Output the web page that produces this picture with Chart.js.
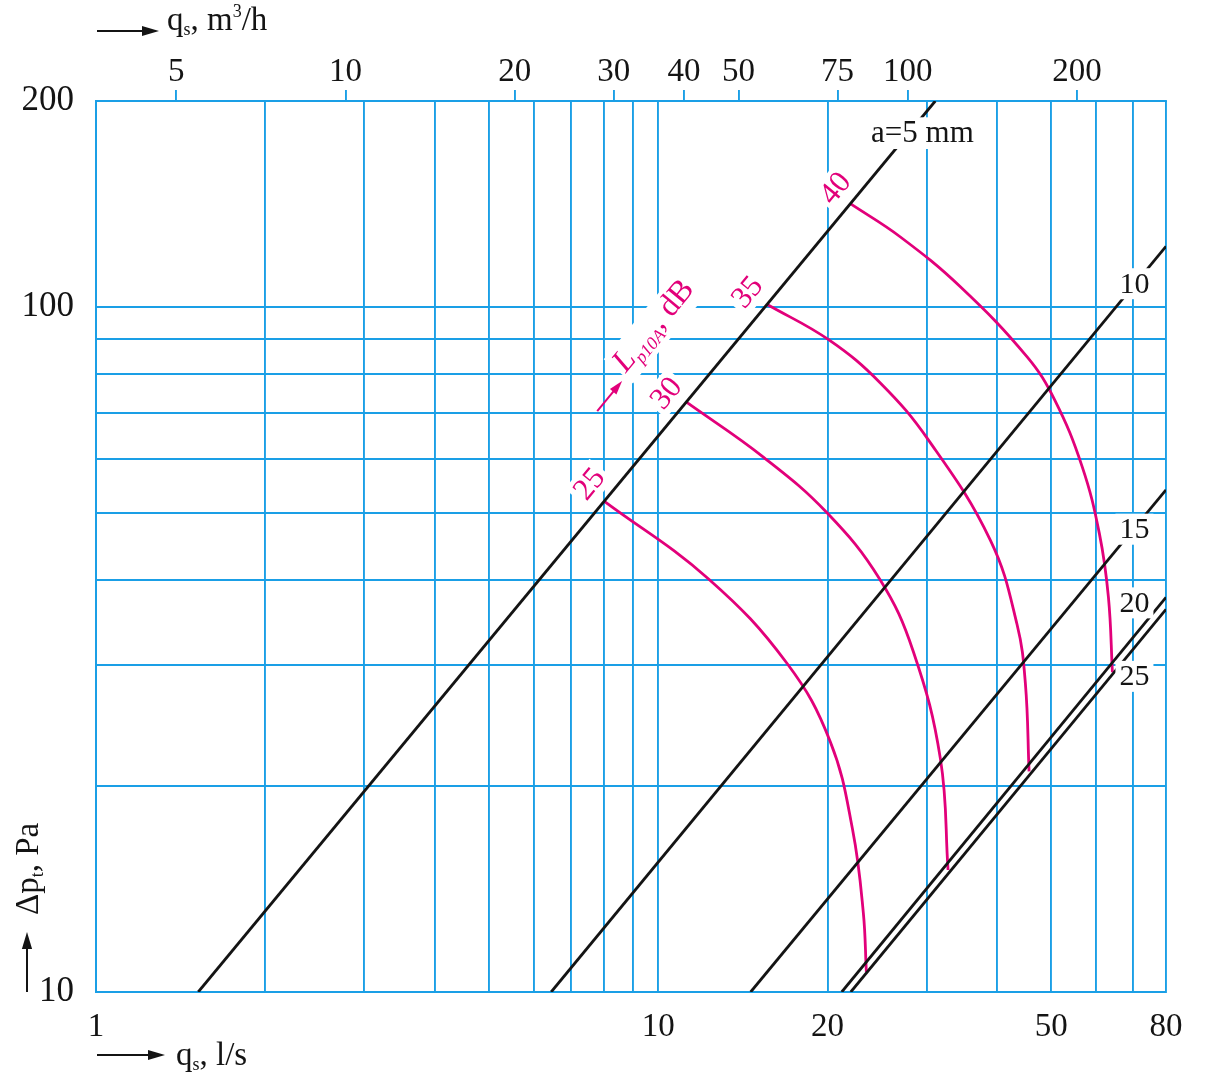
<!DOCTYPE html>
<html>
<head>
<meta charset="utf-8">
<title>Δp_t vs q_s</title>
<script src="https://cdn.jsdelivr.net/npm/chart.js@4.4.1/dist/chart.umd.min.js"></script>
<style>
  html, body { margin: 0; padding: 0; background: #fff; }
  #chart { display: block; width: 1211px; height: 1080px; }
</style>
</head>
<body>
<canvas id="chart" width="1211" height="1080"></canvas>
<script>
const BLUE = '#1a9fe6';
const PINK = '#e2007a';
const INK = '#141414';
const SERIF = '"Liberation Serif", "Times New Roman", serif';

// grid lines and tick labels
const xGrid = [1, 2, 3, 4, 5, 6, 7, 8, 9, 10, 20, 30, 40, 50, 60, 70, 80];   // l/s
const xLabels = [1, 10, 20, 50, 80];
const yGrid = [10, 20, 30, 40, 50, 60, 70, 80, 90, 100, 200];                // Pa
const yLabels = [10, 100, 200];
const topTicks = [5, 10, 20, 30, 40, 50, 75, 100, 200];                       // m3/h
const M3H_PER_LS = 3.6;

// slot width a (mm): straight lines, start and end point
const aNames = ['a=5 mm', '10', '15', '20', '25'];
const aFlow = [[1.52, 31.1], [6.45, 80], [14.6, 80], [21.2, 80], [22.0, 80]];
const aDp = [[10, 200], [10, 122.7], [10, 54.1], [10, 37.7], [10, 36.2]];

// sound level curves L_p10A (dB)
const lpLevels = [25, 30, 35, 40];
const lpFlow = [
  [8.01, 12.29, 16.94, 20.23, 22.17, 23.16, 23.45],
  [11.21, 15.38, 19.96, 24.76, 28.43, 31.76, 32.77],
  [15.63, 20.15, 24.83, 30.27, 38.96, 43.47, 44.98, 45.66],
  [21.96, 26.96, 34.46, 45.3, 50.73, 56.75, 60.9, 63.2, 64.24]
];
const lpDp = [
  [52.1, 40.1, 30.2, 23.2, 17.24, 13.06, 10.7],
  [72.7, 60.4, 50.1, 40.1, 31.4, 21.9, 15.07],
  [100.9, 89.5, 77.5, 63.9, 45.7, 34.4, 28.2, 21.0],
  [141.6, 126.6, 107.1, 84.6, 73.15, 58.5, 46.7, 37.7, 29.3]
];

// where the labels sit, in data units
const aLabelSpots = [[29.5, 179.5], [70.3, 108.2], [70.3, 47.4], [70.3, 37.0], [70.3, 28.9]];
const lpLabelSpots = [[7.54, 55.2], [10.33, 74.9], [14.4, 105.2], [20.65, 149.2]];
const lpTitleSpot = [8.75, 80.0];

const datasets = [];
aFlow.forEach((f, i) => {
  datasets.push({
    data: f.map((q, j) => ({ x: q, y: aDp[i][j] })),
    borderColor: INK,
    borderWidth: 2.8,
    pointRadius: 0,
    tension: 0
  });
});
lpFlow.forEach((f, i) => {
  datasets.push({
    data: f.map((q, j) => ({ x: q, y: lpDp[i][j] })),
    borderColor: PINK,
    borderWidth: 2.8,
    pointRadius: 0,
    tension: 0.4
  });
});

function arrow(ctx, x0, y0, x1, y1, color, head) {
  const ang = Math.atan2(y1 - y0, x1 - x0);
  ctx.save();
  ctx.strokeStyle = color;
  ctx.fillStyle = color;
  ctx.lineWidth = 2;
  ctx.beginPath();
  ctx.moveTo(x0, y0);
  ctx.lineTo(x1 - Math.cos(ang) * head * 0.8, y1 - Math.sin(ang) * head * 0.8);
  ctx.stroke();
  ctx.translate(x1, y1);
  ctx.rotate(ang);
  ctx.beginPath();
  ctx.moveTo(0, 0);
  ctx.lineTo(-head, -head * 0.3);
  ctx.lineTo(-head, head * 0.3);
  ctx.closePath();
  ctx.fill();
  ctx.restore();
}

// runs of text with sub/superscripts: [text, size, dy, italic]
function richText(ctx, x, y, parts, color) {
  ctx.fillStyle = color;
  ctx.textAlign = 'left';
  ctx.textBaseline = 'alphabetic';
  parts.forEach(p => {
    ctx.font = (p[3] ? 'italic ' : '') + p[1] + 'px ' + SERIF;
    ctx.fillText(p[0], x, y + p[2]);
    x += ctx.measureText(p[0]).width;
  });
  return x;
}

function richWidth(ctx, parts) {
  let w = 0;
  parts.forEach(p => {
    ctx.font = (p[3] ? 'italic ' : '') + p[1] + 'px ' + SERIF;
    w += ctx.measureText(p[0]).width;
  });
  return w;
}

function boxedLabel(ctx, text, x, y, size, color, angle) {
  ctx.save();
  ctx.translate(x, y);
  ctx.rotate(angle);
  ctx.font = size + 'px ' + SERIF;
  const w = ctx.measureText(text).width;
  const h = size * 0.7;
  ctx.fillStyle = '#fff';
  ctx.fillRect(-w / 2 - 4, -h / 2 - 5, w + 8, h + 10);
  ctx.fillStyle = color;
  ctx.textAlign = 'center';
  ctx.textBaseline = 'middle';
  ctx.fillText(text, 0, 1);
  ctx.restore();
}

const annotations = {
  id: 'annotations',
  afterDatasetsDraw(chart) {
    const ctx = chart.ctx;
    const xs = chart.scales.x, ys = chart.scales.y;
    const px = v => xs.getPixelForValue(v);
    const py = v => ys.getPixelForValue(v);

    // slope of the a=5 line on screen
    const ang = Math.atan2(py(aDp[0][1]) - py(aDp[0][0]), px(aFlow[0][1]) - px(aFlow[0][0]));

    aNames.forEach((t, i) => {
      boxedLabel(ctx, t, px(aLabelSpots[i][0]), py(aLabelSpots[i][1]), i === 0 ? 31 : 30, INK, 0);
    });
    lpLevels.forEach((lv, i) => {
      boxedLabel(ctx, String(lv), px(lpLabelSpots[i][0]), py(lpLabelSpots[i][1]), 31, PINK, ang);
    });

    // L_p10A, dB
    const parts = [['L', 32, 0, true], ['p10A', 18, 7, true], [', dB', 32, 0, false]];
    ctx.save();
    ctx.translate(px(lpTitleSpot[0]), py(lpTitleSpot[1]));
    ctx.rotate(ang);
    const w = richWidth(ctx, parts);
    ctx.fillStyle = '#fff';
    ctx.fillRect(-3, -26, w + 6, 38);
    richText(ctx, 0, 0, parts, PINK);
    arrow(ctx, -47, 2, -8, 2, PINK, 14);
    ctx.restore();
  },
  afterDraw(chart) {
    const ctx = chart.ctx;
    const a = chart.chartArea;
    // top: flow in m3/h
    arrow(ctx, a.left + 1, 31, a.left + 63, 31, INK, 17);
    richText(ctx, a.left + 71, 30,
      [['q', 33, 0], ['s', 18, 5], [', m', 33, 0], ['3', 18, -13], ['/h', 33, 0]], INK);
    // bottom: flow in l/s
    arrow(ctx, a.left + 1, 1055, a.left + 69, 1055, INK, 17);
    richText(ctx, a.left + 80, 1065, [['q', 33, 0], ['s', 18, 5], [', l/s', 33, 0]], INK);
    // left: pressure drop
    arrow(ctx, 27, a.bottom, 27, a.bottom - 60, INK, 17);
    ctx.save();
    ctx.translate(38, a.bottom - 77);
    ctx.rotate(-Math.PI / 2);
    richText(ctx, 0, 0, [['Δp', 33, 0], ['t', 18, 5], [', Pa', 33, 0]], INK);
    ctx.restore();
  }
};

new Chart(document.getElementById('chart'), {
  type: 'line',
  data: { datasets },
  options: {
    responsive: false,
    animation: false,
    layout: { padding: { left: 0, right: 45, top: 0, bottom: 0 } },
    plugins: { legend: { display: false }, tooltip: { enabled: false } },
    scales: {
      x: {
        type: 'logarithmic',
        position: 'bottom',
        min: 1,
        max: 80,
        afterBuildTicks: s => { s.ticks = xGrid.map(v => ({ value: v })); },
        afterFit: s => { s.height = 88; },
        grid: { color: BLUE, lineWidth: 1.9, drawTicks: false },
        border: { color: BLUE, width: 1.9 },
        ticks: {
          autoSkip: false, maxRotation: 0, padding: 16, color: INK,
          font: { family: SERIF, size: 33 },
          callback: v => xLabels.includes(v) ? String(v) : ''
        }
      },
      x2: {
        type: 'logarithmic',
        position: 'top',
        min: xGrid[0] * M3H_PER_LS,
        max: xGrid[xGrid.length - 1] * M3H_PER_LS,
        afterBuildTicks: s => { s.ticks = topTicks.map(v => ({ value: v })); },
        afterFit: s => { s.height = 101; },
        grid: { drawOnChartArea: false, color: BLUE, lineWidth: 1.9, tickLength: 11 },
        border: { color: BLUE, width: 1.9 },
        ticks: {
          autoSkip: false, maxRotation: 0, padding: -2, color: INK,
          font: { family: SERIF, size: 33 },
          callback: v => String(v)
        }
      },
      y: {
        type: 'logarithmic',
        position: 'left',
        min: 10,
        max: 200,
        afterBuildTicks: s => { s.ticks = yGrid.map(v => ({ value: v })); },
        afterFit: s => { s.width = 96; },
        grid: { color: BLUE, lineWidth: 1.9, drawTicks: false },
        border: { color: BLUE, width: 1.9 },
        ticks: {
          autoSkip: false, padding: 22, color: INK,
          font: { family: SERIF, size: 35 },
          callback: v => yLabels.includes(v) ? String(v) : ''
        }
      }
    }
  },
  plugins: [annotations]
});
</script>
</body>
</html>
